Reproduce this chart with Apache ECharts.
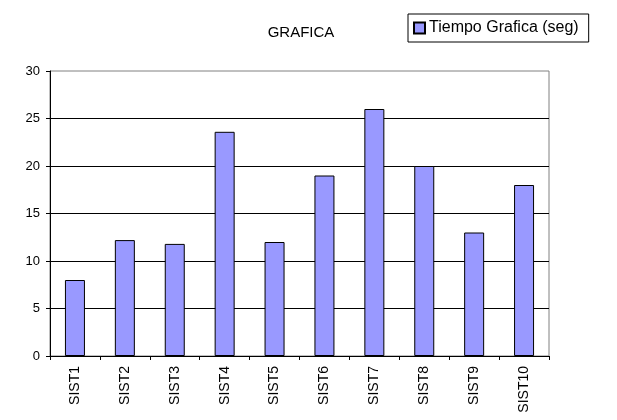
<!DOCTYPE html>
<html>
<head>
<meta charset="utf-8">
<script src="https://cdn.jsdelivr.net/npm/echarts@6/dist/echarts.min.js"></script>
<style>
html,body{margin:0;padding:0;background:#fff;}
#c{width:617px;height:420px;}
</style>
</head>
<body>
<div id="c"></div>
<script>
var categories = ["SIST1","SIST2","SIST3","SIST4","SIST5","SIST6","SIST7","SIST8","SIST9","SIST10"];
var tiempoGrafica = [8, 12.2, 11.8, 23.6, 12, 19, 26, 20, 13, 18];
var seriesName = "Tiempo Grafica (seg)";
var titleText = "GRAFICA";

var FONT = "'Liberation Sans', Arial, sans-serif";
var chart = echarts.init(document.getElementById('c'), null, {renderer:'canvas'});
chart.setOption({
  animation: false,
  backgroundColor: '#ffffff',
  title: {
    text: titleText,
    left: 296, top: 20, textAlign: 'center',
    textStyle: {fontFamily: FONT, fontSize: 15, fontWeight: 'normal', color: '#000'}
  },
  legend: {
    left: 408, top: 14,
    padding: [6, 10, 6, 5],
    borderColor: '#000', borderWidth: 1,
    icon: 'rect', itemWidth: 11, itemHeight: 11, itemGap: 4,
    textStyle: {fontFamily: FONT, fontSize: 16, color: '#000', padding: [0,0,0,-1]},
    data: [seriesName]
  },
  grid: {
    left: 50, right: 68, top: 71, bottom: 64,
    show: true, borderColor: '#808080', borderWidth: 1, backgroundColor: 'transparent'
  },
  xAxis: {
    type: 'category',
    data: categories,
    axisLine: {lineStyle: {color: '#000', width: 1}},
    axisTick: {show: true, length: 4, lineStyle: {color: '#000'}},
    axisLabel: {rotate: 90, margin: 10, fontFamily: FONT, fontSize: 14, color: '#000'}
  },
  yAxis: {
    type: 'value', min: 0, max: 30, interval: 5,
    axisLine: {show: true, lineStyle: {color: '#000', width: 1}},
    axisTick: {show: true, length: 4, lineStyle: {color: '#000'}},
    axisLabel: {margin: 10, fontFamily: FONT, fontSize: 13, color: '#000'},
    splitLine: {show: true, showMaxLine: false, lineStyle: {color: '#000', width: 1}}
  },
  series: [{
    name: seriesName,
    type: 'bar',
    data: tiempoGrafica,
    barWidth: 20,
    itemStyle: {color: '#9999FF', borderColor: '#000', borderWidth: 1}
  }]
});
</script>
</body>
</html>
